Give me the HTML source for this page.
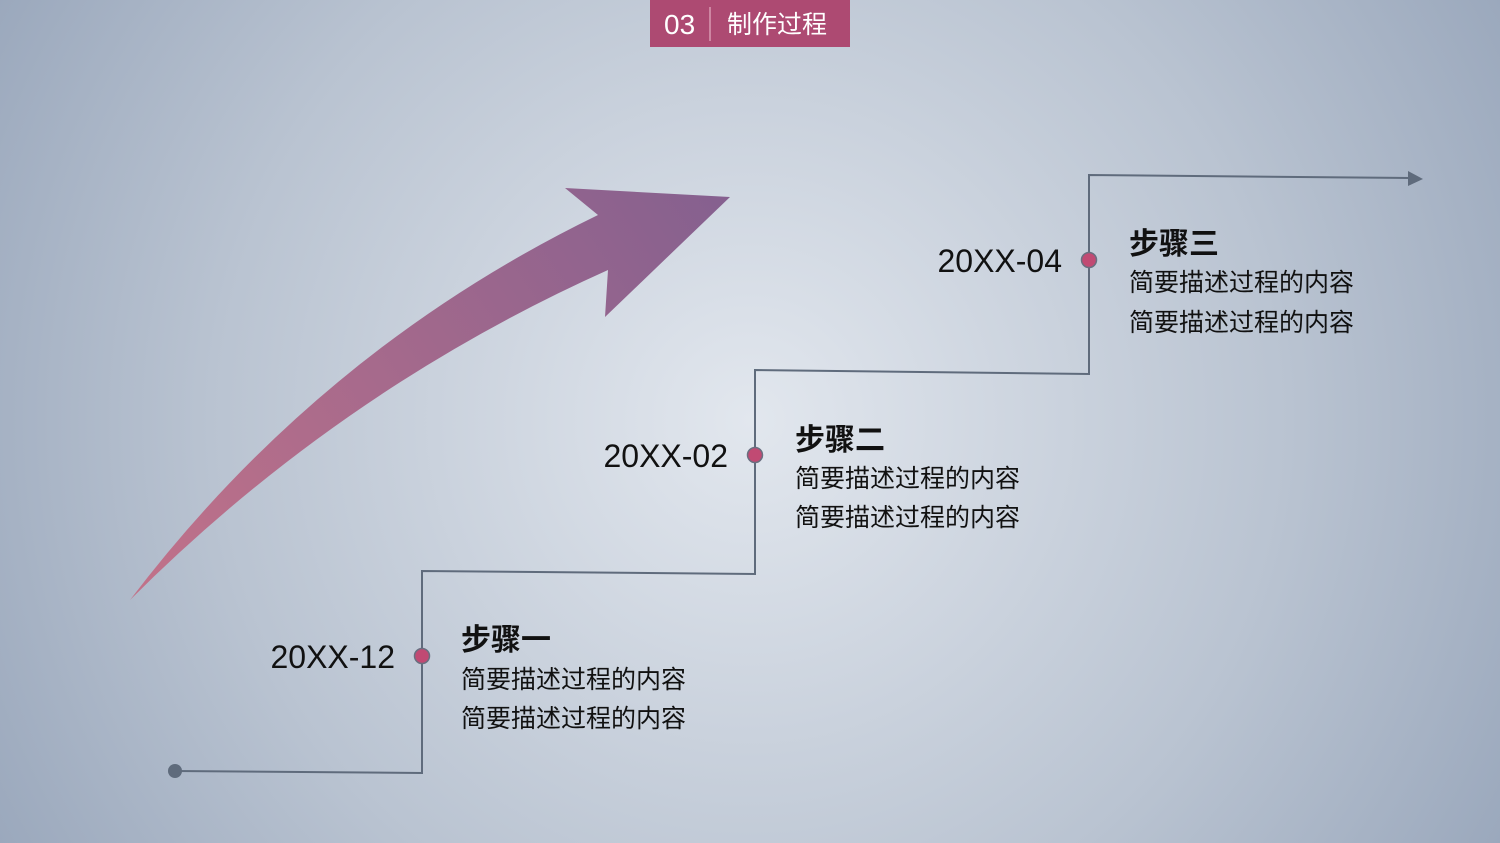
<!DOCTYPE html>
<html><head><meta charset="utf-8"><style>
body{margin:0;width:1500px;height:843px;overflow:hidden}
svg{display:block}
text{font-family:"Liberation Sans","Noto Sans CJK SC",sans-serif}
</style></head><body>
<svg width="1500" height="843" viewBox="0 0 1500 843">
<defs>
<radialGradient id="bg" cx="750" cy="420" r="900" gradientUnits="userSpaceOnUse">
<stop offset="0" stop-color="#e2e7ee"/><stop offset="0.6" stop-color="#b9c3d1"/><stop offset="1" stop-color="#97a5ba"/>
</radialGradient>
<linearGradient id="ar" x1="130" y1="600" x2="730" y2="197" gradientUnits="userSpaceOnUse">
<stop offset="0" stop-color="#c27289"/><stop offset="1" stop-color="#85608f"/>
</linearGradient>
</defs>
<rect width="1500" height="843" fill="url(#bg)"/>
<rect x="650" y="0" width="200" height="47" fill="#ad4a72"/>
<line x1="710" y1="7" x2="710" y2="41" stroke="#d89ab3" stroke-width="1.5"/>
<text x="664" y="34" font-size="28" fill="#fff">03</text>
<text x="727" y="33" font-size="25" fill="#fff">制作过程</text>
<path d="M130,600 Q320,350 598,215 L565,188 L730,197 L605,317 L608,270 Q340,390 130,600 Z" fill="url(#ar)"/>
<g fill="none" stroke="#5f6b7c" stroke-width="2">
<polyline points="175,771 422,773 422,571 755,574 755,370 1089,374 1089,175 1410,178"/>
</g>
<polygon points="1408,171 1423,179 1408,186" fill="#5f6b7c"/>
<circle cx="175" cy="771" r="7" fill="#5f6b7c"/>
<g fill="#c14a73" stroke="#6a6f80" stroke-width="1.5">
<circle cx="422" cy="656" r="7.5"/><circle cx="755" cy="455" r="7.5"/><circle cx="1089" cy="260" r="7.5"/>
</g>
<g font-size="32" fill="#111" text-anchor="end">
<text x="395" y="668">20XX-12</text>
<text x="728" y="467">20XX-02</text>
<text x="1062" y="272">20XX-04</text>
</g>
<g fill="#111">
<text x="461" y="650" font-size="30" font-weight="bold">步骤一</text>
<text x="461" y="688" font-size="25">简要描述过程的内容</text>
<text x="461" y="727" font-size="25">简要描述过程的内容</text>
<text x="795" y="450" font-size="30" font-weight="bold">步骤二</text>
<text x="795" y="487" font-size="25">简要描述过程的内容</text>
<text x="795" y="526" font-size="25">简要描述过程的内容</text>
<text x="1129" y="254" font-size="30" font-weight="bold">步骤三</text>
<text x="1129" y="291" font-size="25">简要描述过程的内容</text>
<text x="1129" y="331" font-size="25">简要描述过程的内容</text>
</g>
</svg>
</body></html>
